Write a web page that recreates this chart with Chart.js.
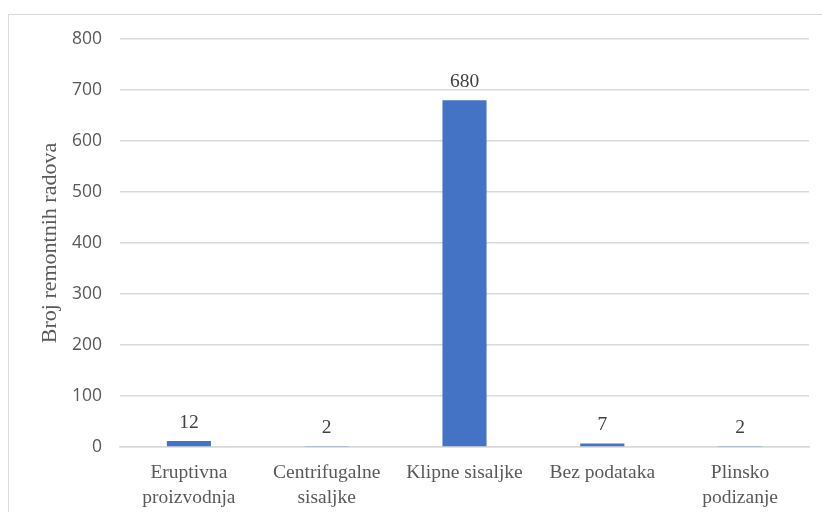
<!DOCTYPE html>
<html>
<head>
<meta charset="utf-8">
<script src="https://cdn.jsdelivr.net/npm/chart.js@4.4.0/dist/chart.umd.min.js"></script>
<style>
  html, body { margin: 0; padding: 0; background: #fff; }
  #wrap { position: relative; width: 822px; height: 512px; overflow: hidden; }
  #frame { position: absolute; left: 8px; top: 14px; width: 830px; height: 520px;
           border-left: 1.5px solid #d9d9d9; border-top: 1.5px solid #d9d9d9; }
  canvas { position: absolute; left: 0; top: 0; }
</style>
</head>
<body>
<div id="wrap">
  <div id="frame"></div>
  <canvas id="myChart" width="822" height="512"></canvas>
</div>
<script>
const categories = [
  ['Eruptivna', 'proizvodnja'],
  ['Centrifugalne', 'sisaljke'],
  'Klipne sisaljke',
  'Bez podataka',
  ['Plinsko', 'podizanje']
];
const workovers = [12, 2, 680, 7, 2];
const yTicks = [0, 100, 200, 300, 400, 500, 600, 700, 800];

const serif = "'Liberation Serif', serif";
const sans = "'Open Sans', sans-serif";

Chart.defaults.font.family = serif;

// labels above each bar, like Excel's data labels
const barLabels = {
  id: 'barLabels',
  afterDatasetsDraw(chart) {
    const c = chart.ctx;
    const meta = chart.getDatasetMeta(0);
    c.save();
    c.font = '19.5px ' + serif;
    c.fillStyle = '#404040';
    c.textAlign = 'center';
    c.textBaseline = 'alphabetic';
    meta.data.forEach((bar, i) => {
      c.fillText(String(workovers[i]), bar.x, bar.y - 13);
    });
    c.restore();
  }
};

let ctx = document.getElementById('myChart').getContext('2d');
new Chart(ctx, {
  type: 'bar',
  data: {
    labels: categories,
    datasets: [{
      data: workovers,
      backgroundColor: '#4472C4',
      barPercentage: 1,
      categoryPercentage: 0.32
    }]
  },
  options: {
    responsive: false,
    animation: false,
    devicePixelRatio: 1,
    layout: { padding: { left: 33, right: 13, top: 39, bottom: 0 } },
    plugins: { legend: { display: false }, tooltip: { enabled: false } },
    scales: {
      x: {
        grid: { display: false, drawTicks: false },
        border: { color: '#d9d9d9', width: 1.5 },
        ticks: {
          color: '#595959',
          font: { family: serif, size: 19.5, lineHeight: 1.28 },
          padding: 13,
          maxRotation: 0,
          autoSkip: false
        },
        afterFit: (s) => { s.height = 65; }
      },
      y: {
        min: 0,
        max: 800,
        afterBuildTicks: (s) => { s.ticks = yTicks.map(v => ({ value: v })); },
        grid: { color: '#d9d9d9', lineWidth: 1.5, drawTicks: false },
        border: { display: false },
        ticks: {
          color: '#595959',
          font: { family: sans, size: 17.5 },
          padding: 18
        },
        title: {
          display: true,
          text: 'Broj remontnih radova',
          color: '#595959',
          font: { family: serif, size: 22 }
        },
        afterFit: (s) => { s.width = 87; }
      }
    }
  },
  plugins: [barLabels]
});
</script>
</body>
</html>
